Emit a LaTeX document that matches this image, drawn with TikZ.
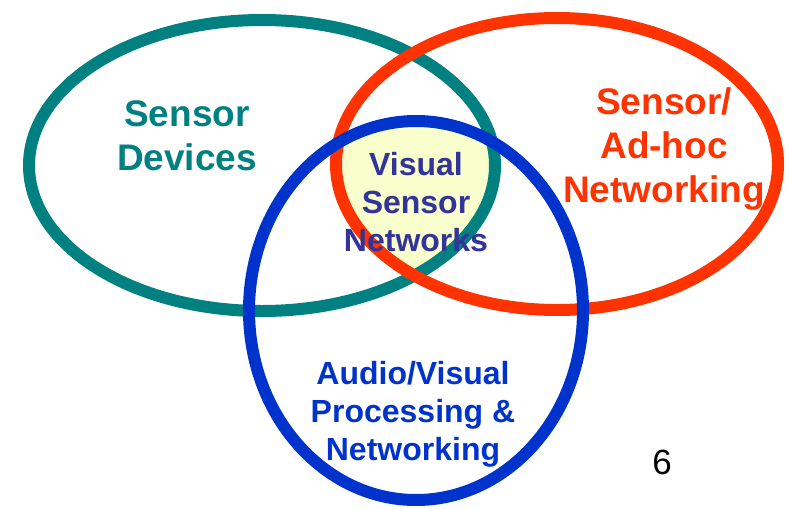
\documentclass[tikz,border=0pt]{standalone}
\usepackage{fontspec}
\setmainfont{Liberation Sans}
\usepackage{tikz}
\usepackage{xcolor}
\definecolor{devteal}{HTML}{008080}
\definecolor{netred}{HTML}{FF3300}
\definecolor{avblue}{HTML}{0033CC}
\definecolor{vsnindigo}{HTML}{333399}
\definecolor{vsnfill}{HTML}{F8FFCC}
\tikzset{
    venn-ring/.style = {line width=12pt},
    big-label/.style = {align=center, font=\fontsize{37}{44}\selectfont\bfseries},
    small-label/.style = {align=center, font=\fontsize{32}{38}\selectfont\bfseries},
}

\begin{document}
\begin{tikzpicture}[x=1pt,y=-1pt]
\useasboundingbox (0,0) rectangle (791,508);
% common part of the three sets
\begin{scope}
    \clip (262,165.5) ellipse [x radius=233, y radius=145.5];
    \clip (557,164) ellipse [x radius=221, y radius=146];
    \fill[vsnfill] (416,310.5) ellipse [x radius=167, y radius=189.5];
\end{scope}
\draw[venn-ring, devteal] (262,165.5) ellipse [x radius=233, y radius=145.5];
\draw[venn-ring, netred] (557,164) ellipse [x radius=221, y radius=146];
\draw[venn-ring, avblue] (416,310.5) ellipse [x radius=167, y radius=189.5];
\node[big-label, text=devteal] (devices) at (187,136) {Sensor\\Devices};
\node[big-label, text=netred] (adhoc) at (664,149) {Sensor/\\Ad-hoc\\Networking};
\node[small-label, text=vsnindigo] (vsn) at (416,202.5) {Visual\\Sensor\\Networks};
\node[small-label, text=avblue] (avproc) at (413,414) {Audio/Visual\\Processing \&\\Networking};
\node[font=\fontsize{35}{42}\selectfont] (pagenum) at (662,462) {6};
\end{tikzpicture}
\end{document}
